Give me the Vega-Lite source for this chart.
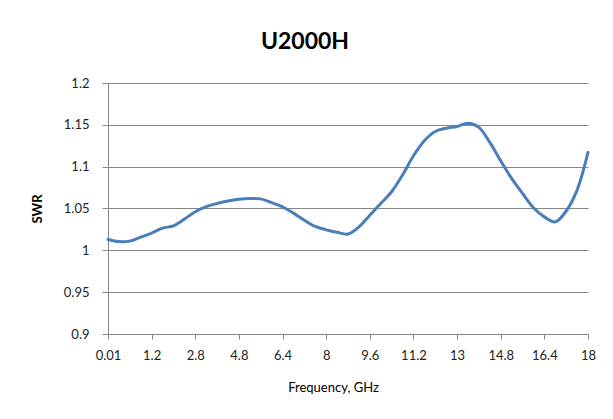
{
  "$schema": "https://vega.github.io/schema/vega-lite/v6.json",
  "width": 486,
  "height": 251,
  "autosize": {"type": "none"},
  "padding": {"left": 108, "top": 83, "right": 19, "bottom": 85},
  "background": "white",
  "title": {
    "text": "U2000H",
    "font": "Lato",
    "fontSize": 23,
    "fontWeight": "bold",
    "color": "#000000",
    "anchor": "middle",
    "dx": -46,
    "offset": 23
  },
  "config": {
    "view": {"stroke": null},
    "font": "Lato"
  },
  "data": {
    "values": [
      {"freq": 0.01, "swr": 1.013},
      {"freq": 0.3, "swr": 1.0105},
      {"freq": 0.6, "swr": 1.011},
      {"freq": 0.9, "swr": 1.0158},
      {"freq": 1.2, "swr": 1.0206},
      {"freq": 1.6, "swr": 1.0266},
      {"freq": 2.0, "swr": 1.0292},
      {"freq": 2.4, "swr": 1.0373},
      {"freq": 2.8, "swr": 1.0461},
      {"freq": 3.3, "swr": 1.0522},
      {"freq": 3.8, "swr": 1.056},
      {"freq": 4.3, "swr": 1.059},
      {"freq": 4.8, "swr": 1.061},
      {"freq": 5.2, "swr": 1.062},
      {"freq": 5.6, "swr": 1.0615},
      {"freq": 6.0, "swr": 1.057},
      {"freq": 6.4, "swr": 1.052},
      {"freq": 6.8, "swr": 1.0445},
      {"freq": 7.2, "swr": 1.036},
      {"freq": 7.6, "swr": 1.0285},
      {"freq": 8, "swr": 1.0245},
      {"freq": 8.4, "swr": 1.0215},
      {"freq": 8.8, "swr": 1.0195},
      {"freq": 9.2, "swr": 1.028},
      {"freq": 9.6, "swr": 1.042},
      {"freq": 10, "swr": 1.056},
      {"freq": 10.4, "swr": 1.07},
      {"freq": 10.8, "swr": 1.09},
      {"freq": 11.2, "swr": 1.113},
      {"freq": 11.65, "swr": 1.131},
      {"freq": 12.1, "swr": 1.142},
      {"freq": 12.55, "swr": 1.146},
      {"freq": 13, "swr": 1.148},
      {"freq": 13.45, "swr": 1.152},
      {"freq": 13.9, "swr": 1.147},
      {"freq": 14.35, "swr": 1.129},
      {"freq": 14.8, "swr": 1.107},
      {"freq": 15.2, "swr": 1.086},
      {"freq": 15.6, "swr": 1.068},
      {"freq": 16, "swr": 1.051},
      {"freq": 16.4, "swr": 1.04},
      {"freq": 16.8, "swr": 1.034},
      {"freq": 17.2, "swr": 1.047},
      {"freq": 17.6, "swr": 1.072},
      {"freq": 18, "swr": 1.117}
    ]
  },
  "mark": {
    "type": "line",
    "color": "#4a7ebb",
    "strokeWidth": 3,
    "interpolate": "catmull-rom",
    "strokeCap": "round"
  },
  "encoding": {
    "x": {
      "field": "freq",
      "type": "ordinal",
      "scale": {"type": "point", "range": [0, 480], "padding": 0},
      "axis": {
        "title": "Frequency, GHz",
        "values": [0.01, 1.2, 2.8, 4.8, 6.4, 8, 9.6, 11.2, 13, 14.8, 16.4, 18],
        "labelAngle": 0,
        "labelFontSize": 13,
        "labelColor": "#222222",
        "labelPadding": 10,
        "tickSize": 5,
        "tickColor": "#868686",
        "domainColor": "#868686",
        "grid": false,
        "titleFontSize": 13,
        "titleFontWeight": "normal",
        "titleColor": "#000000",
        "titleX": 225,
        "titlePadding": 19
      }
    },
    "y": {
      "field": "swr",
      "type": "quantitative",
      "scale": {"domain": [0.9, 1.2], "zero": false, "nice": false},
      "axis": {
        "title": "SWR",
        "values": [0.9, 0.95, 1, 1.05, 1.1, 1.15, 1.2],
        "format": "~g",
        "labelFontSize": 13,
        "labelColor": "#222222",
        "labelPadding": 13,
        "tickSize": 6,
        "tickColor": "#868686",
        "domainColor": "#868686",
        "gridColor": "#868686",
        "gridWidth": 1,
        "titleFontSize": 13,
        "titleFontWeight": "bold",
        "titleColor": "#000000",
        "titlePadding": 19
      }
    }
  }
}
